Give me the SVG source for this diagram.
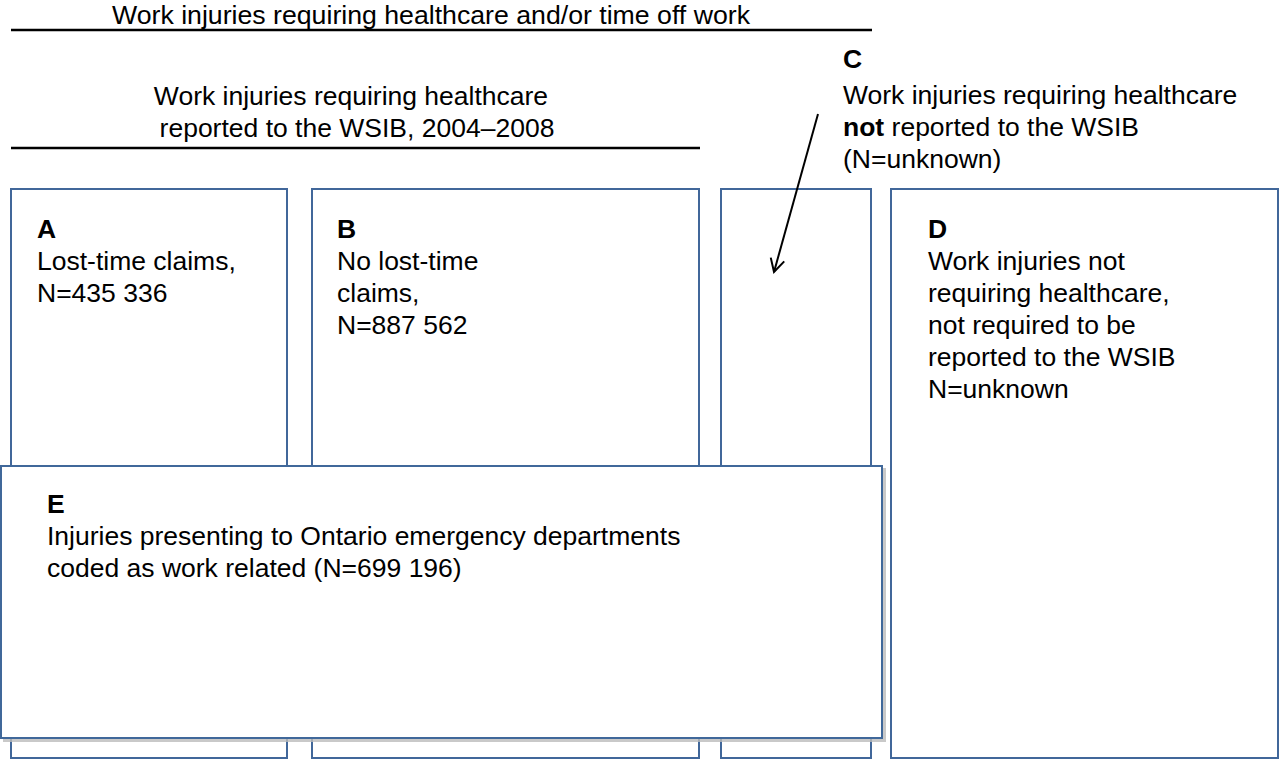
<svg xmlns="http://www.w3.org/2000/svg" width="1280" height="760" viewBox="0 0 1280 760">
<style>
text{font-family:"Liberation Sans",Arial,sans-serif;font-size:26.5px;fill:#000}
.b{font-weight:bold}
.box{fill:#fff;stroke:#41679a;stroke-width:2}
.rule{stroke:#000;stroke-width:2.5}
</style>
<defs>
<marker id="ah" markerWidth="20" markerHeight="20" refX="14" refY="8" orient="auto" markerUnits="userSpaceOnUse">
<polyline points="1,1 14,8 1,15" fill="none" stroke="#000" stroke-width="2"/>
</marker>
<filter id="sh" x="-5%" y="-5%" width="110%" height="110%">
<feOffset in="SourceAlpha" dx="3" dy="3" result="o"/>
<feColorMatrix in="o" type="matrix" values="0 0 0 0 0.5 0 0 0 0 0.5 0 0 0 0 0.5 0 0 0 0.8 0" result="c"/>
<feMerge><feMergeNode in="c"/><feMergeNode in="SourceGraphic"/></feMerge>
</filter>
</defs>
<rect width="1280" height="760" fill="#fff"/>
<g id="headers">
<text x="112" y="23.5" textLength="638" lengthAdjust="spacingAndGlyphs" style="font-size:26px">Work injuries requiring healthcare and/or time off work</text>
<line class="rule" x1="11" y1="30" x2="872" y2="30"/>
<text x="351" y="105" text-anchor="middle">Work injuries requiring healthcare</text>
<text x="357" y="137" text-anchor="middle">reported to the WSIB, 2004–2008</text>
<line class="rule" x1="11" y1="148" x2="700" y2="148"/>
</g>
<g id="nodeA">
<rect class="box" x="11" y="189" width="276" height="569"/>
<text x="37" y="238" class="b">A</text>
<text x="37" y="270">Lost-time claims,</text>
<text x="37" y="302">N=435 336</text>
</g>
<g id="nodeB">
<rect class="box" x="312" y="189" width="387" height="569"/>
<text x="337" y="238" class="b">B</text>
<text x="337" y="270">No lost-time</text>
<text x="337" y="302">claims,</text>
<text x="337" y="334">N=887 562</text>
</g>
<g id="nodeCbox">
<rect class="box" x="721" y="189" width="150" height="569"/>
</g>
<g id="nodeD">
<rect class="box" x="891" y="189" width="387" height="569"/>
<text x="928" y="238" class="b">D</text>
<text x="928" y="270">Work injuries not</text>
<text x="928" y="302">requiring healthcare,</text>
<text x="928" y="334">not required to be</text>
<text x="928" y="366">reported to the WSIB</text>
<text x="928" y="398">N=unknown</text>
</g>
<g id="nodeE">
<rect class="box" x="1" y="466" width="881" height="272" filter="url(#sh)"/>
<text x="47" y="513" class="b">E</text>
<text x="47" y="545">Injuries presenting to Ontario emergency departments</text>
<text x="47" y="577">coded as work related (N=699 196)</text>
</g>
<g id="nodeC">
<text x="843" y="68" class="b">C</text>
<text x="843" y="104">Work injuries requiring healthcare</text>
<text x="843" y="136"><tspan class="b">not</tspan> reported to the WSIB</text>
<text x="843" y="168">(N=unknown)</text>
</g>
<g id="connectors">
<line x1="818" y1="114" x2="774" y2="272" stroke="#000" stroke-width="2" marker-end="url(#ah)"/>
</g>
</svg>
